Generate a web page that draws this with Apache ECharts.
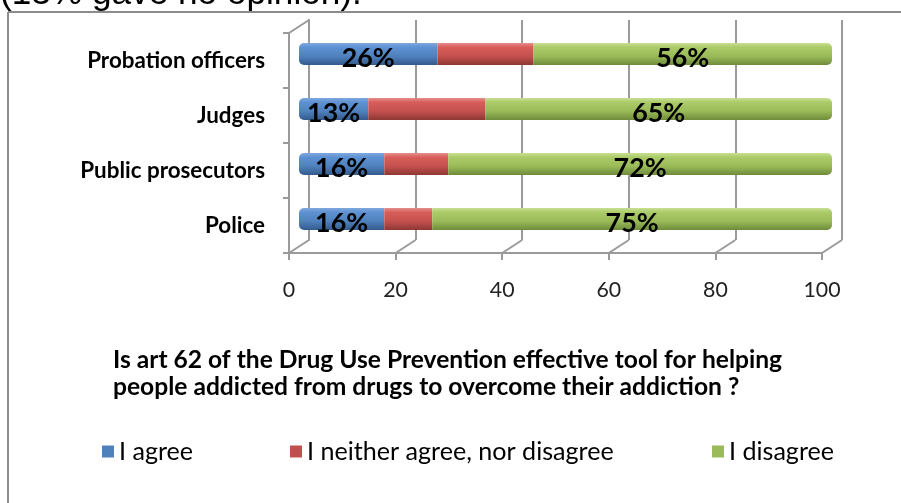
<!DOCTYPE html>
<html><head><meta charset="utf-8">
<script src="https://cdn.jsdelivr.net/npm/echarts@6/dist/echarts.min.js"></script>
<style>html,body{margin:0;padding:0;background:#fff}#c{width:901px;height:503px}</style>
</head><body><div id="c"></div>
<script>
const categories = ['Police', 'Public prosecutors', 'Judges', 'Probation officers'];
const agree = [16, 16, 13, 26];
const neither = [9, 12, 22, 18];
const disagree = [75, 72, 65, 56];
const seriesNames = ['I agree', 'I neither agree, nor disagree', 'I disagree'];
const xTicks = [0, 20, 40, 60, 80, 100];
const titleLines = ['Is art 62 of the Drug Use Prevention effective tool for helping', 'people addicted from drugs to overcome their addiction ?'];
const noteText = '(13% gave no opinion).';

const ctx = document.createElement('canvas').getContext('2d');
function fit(text, weight, family, width) {
  ctx.font = weight + ' 100px ' + family;
  return Math.round(1000 * width / ctx.measureText(text).width) / 10;
}
const F = 'Lato';
const titleSize = fit(titleLines[0], 'bold', F, 668);
const catSize = fit('Public prosecutors', 'bold', F, 185);
const legSize = fit(seriesNames[1], 'normal', F, 307);
const tickSize = fit('100', 'normal', F, 37);
const dataSize = fit('26%', 'bold', F, 53);
const noteSize = fit(noteText, 'normal', 'Liberation Sans', 362);

const FRONT = { left: 289, top: 33, width: 533, height: 220 };
const DEPTH = [20, -13];
function grid(f) {
  return { left: FRONT.left + DEPTH[0] * f, top: FRONT.top + DEPTH[1] * f, width: FRONT.width, height: FRONT.height };
}
function grad(c0, c1, c2, c3) {
  return new echarts.graphic.LinearGradient(0, 0, 0, 1, [
    { offset: 0, color: c0 }, { offset: 0.2, color: c1 }, { offset: 0.6, color: c2 }, { offset: 1, color: c3 }]);
}
const AX = '#9a9a9a';
const legendColors = ['#4f81bd', '#c0504d', '#9bbb59'];
const legendLefts = [102, 290, 712];

const dataLabel = {
  show: true, position: 'inside', offset: [0, 4], formatter: '{c}%',
  fontSize: dataSize, fontWeight: 'bold', fontFamily: F, color: '#000', textBorderWidth: 0
};

const chart = echarts.init(document.getElementById('c'), null, { renderer: 'canvas' });
chart.setOption({
  animation: false,
  backgroundColor: '#fff',
  title: {
    text: titleLines.join('\n'), left: 113, top: 347, padding: 0,
    textStyle: { fontFamily: F, fontWeight: 'bold', fontSize: titleSize, lineHeight: 27, color: '#000' }
  },
  legend: seriesNames.map((n, i) => ({
    data: [{ name: n, itemStyle: { color: legendColors[i] } }],
    left: legendLefts[i], top: 439, padding: 0, itemWidth: 12, itemHeight: 12, icon: 'rect',
    selectedMode: false,
    textStyle: { fontSize: legSize, fontFamily: F, color: '#000' }
  })),
  grid: [grid(0), grid(0.5), grid(1)],
  xAxis: [
    { gridIndex: 0, type: 'value', min: 0, max: 100, interval: 20,
      axisLine: { show: true, lineStyle: { color: AX, width: 2 } },
      axisTick: { show: true, length: 7, lineStyle: { color: AX, width: 2 } },
      axisLabel: { margin: 37 - tickSize / 2, fontSize: tickSize, fontFamily: F, color: '#222' },
      splitLine: { show: false } },
    { gridIndex: 1, type: 'value', min: 0, max: 100, show: false },
    { gridIndex: 2, type: 'value', min: 0, max: 100, interval: 20,
      axisLine: { show: false }, axisTick: { show: false }, axisLabel: { show: false },
      splitLine: { show: true, lineStyle: { color: AX, width: 2 } } }
  ],
  yAxis: [
    { gridIndex: 0, type: 'category', data: categories,
      axisLine: { show: true, lineStyle: { color: AX, width: 2 } },
      axisTick: { show: true, length: 6, lineStyle: { color: AX, width: 2 } },
      axisLabel: { margin: 24, fontSize: catSize, fontWeight: 'bold', fontFamily: F, color: '#000' } },
    { gridIndex: 1, type: 'category', data: categories, show: false },
    { gridIndex: 2, type: 'category', data: categories,
      axisLine: { show: true, lineStyle: { color: AX, width: 2 } },
      axisTick: { show: false }, axisLabel: { show: false } }
  ],
  series: [
    { type: 'custom', xAxisIndex: 0, yAxisIndex: 0, data: xTicks, clip: false, silent: true,
      encode: { x: 0 },
      renderItem: function (params, api) {
        const v = api.value(0);
        const p = api.coord([v, 0]);
        const half = api.size([0, 1])[1] / 2;
        const yb = p[1] + half;
        const style = { stroke: AX, lineWidth: 2 };
        const children = [{ type: 'line', shape: { x1: p[0], y1: yb, x2: p[0] + DEPTH[0], y2: yb + DEPTH[1] }, style: style }];
        if (params.dataIndex === 0) {
          const top = api.coord([v, categories.length - 1])[1] - half;
          children.push({ type: 'line', shape: { x1: p[0], y1: top, x2: p[0] + DEPTH[0], y2: top + DEPTH[1] }, style: style });
        }
        return { type: 'group', children: children };
      } },
    { name: seriesNames[0], type: 'bar', stack: 'a', xAxisIndex: 1, yAxisIndex: 1, barWidth: 22, data: agree,
      itemStyle: { color: grad('#7fa8dc', '#5d91d2', '#4f81bd', '#345a8c'), borderRadius: [5, 0, 0, 5] },
      label: dataLabel },
    { name: seriesNames[1], type: 'bar', stack: 'a', xAxisIndex: 1, yAxisIndex: 1, barWidth: 22, data: neither,
      itemStyle: { color: grad('#e48e8b', '#d85d59', '#c4514e', '#8e3735') } },
    { name: seriesNames[2], type: 'bar', stack: 'a', xAxisIndex: 1, yAxisIndex: 1, barWidth: 22, data: disagree,
      itemStyle: { color: grad('#c8df92', '#aacb68', '#9bbb59', '#6f8b3b'), borderRadius: [0, 5, 5, 0] },
      label: dataLabel }
  ],
  graphic: [
    { type: 'line', shape: { x1: 8, y1: 12, x2: 901, y2: 12 }, style: { stroke: '#8c8c8c', lineWidth: 2 }, silent: true },
    { type: 'line', shape: { x1: 8, y1: 12, x2: 8, y2: 503 }, style: { stroke: '#8c8c8c', lineWidth: 2 }, silent: true },
    { type: 'text', left: 0, top: 7 - noteSize * 0.85, silent: true,
      style: { text: noteText, fontSize: noteSize, fontFamily: 'Liberation Sans', fill: '#000' } }
  ]
});
</script></body></html>
